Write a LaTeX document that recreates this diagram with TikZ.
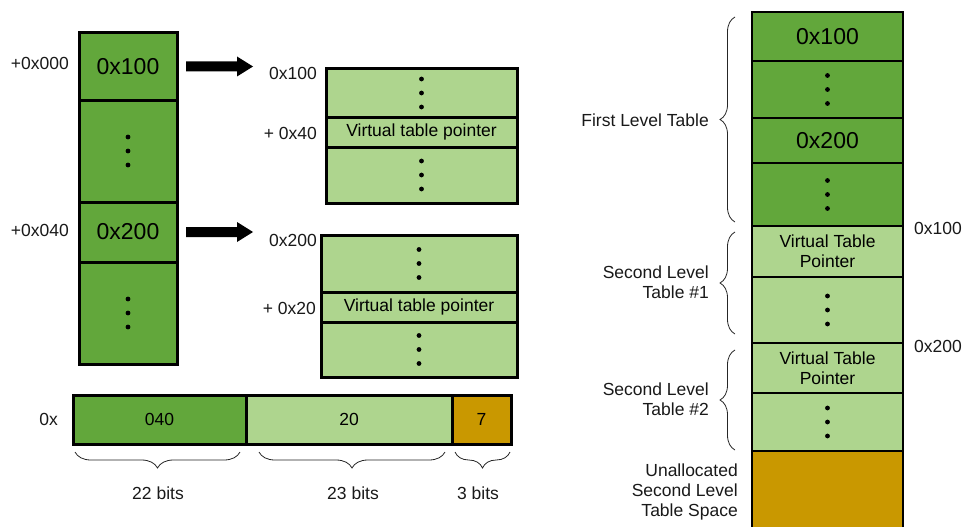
\documentclass[tikz,border=0pt]{standalone}
\usepackage{fontspec}
\setmainfont{Liberation Sans}
\usetikzlibrary{decorations.pathreplacing}

\definecolor{dkgreen}{RGB}{98,167,59}
\definecolor{ltgreen}{RGB}{174,213,142}
\definecolor{gold}{RGB}{201,152,0}

\newcommand\smallfont{\fontsize{17.5}{20}\selectfont}
\newcommand\bigfont{\fontsize{23}{27}\selectfont}
% three stacked dots in the middle of a cell
\newcommand\vdotsin[1]{\foreach \d in {-14,0,14}{\fill ([yshift=\d pt]#1.center) circle (2.4pt);}}
% block arrow from coordinate #1 to coordinate #2 (horizontal)
\newcommand\blockarrow[2]{\fill ([yshift=5pt]#1) -- ([xshift=-16pt,yshift=5pt]#2) -- ([xshift=-16pt,yshift=10pt]#2)
  -- (#2) -- ([xshift=-16pt,yshift=-10pt]#2) -- ([xshift=-16pt,yshift=-5pt]#2) -- ([yshift=-5pt]#1) -- cycle;}

\begin{document}
\begin{tikzpicture}[x=1pt,y=-1pt,
  cell/.style={draw=black, line width=3pt, anchor=north west, inner sep=0pt, outer sep=0pt, font=\smallfont, align=center},
  rcell/.style={cell, line width=2.6pt, minimum width=151pt},
  lbl/.style={font=\smallfont, inner sep=0pt, text=black!90},
  brc/.style={draw=black!85, line width=0.8pt, decorate}]
\useasboundingbox (0,0) rectangle (964,527);

% ---- first level table (left) ----
\node[cell, fill=dkgreen, minimum width=98pt, minimum height=67pt,  font=\bigfont] (c1) at (79,33) {0x100};
\node[cell, fill=dkgreen, minimum width=98pt, minimum height=102pt] (c2) at (79,100) {};
\node[cell, fill=dkgreen, minimum width=98pt, minimum height=60pt,  font=\bigfont] (c3) at (79,202) {0x200};
\node[cell, fill=dkgreen, minimum width=98pt, minimum height=102pt] (c4) at (79,262) {};
\vdotsin{c2}
\vdotsin{c4}
\node[lbl, anchor=east] (o1) at (69,63) {+0x000};
\node[lbl, anchor=east] (o2) at (69,230) {+0x040};

% ---- pointers to the second level tables ----
\coordinate (s1) at ([xshift=9pt]c1.east);
\coordinate (e1) at ([xshift=76pt]c1.east);
\coordinate (s2) at ([xshift=9pt]c3.east);
\coordinate (e2) at ([xshift=76pt]c3.east);
\blockarrow{s1}{e1}
\blockarrow{s2}{e2}

% ---- second level table #1 ----
\node[cell, fill=ltgreen, minimum width=191pt, minimum height=48pt] (a1) at (326,69) {};
\node[cell, fill=ltgreen, minimum width=191pt, minimum height=30pt] (a2) at (326,117) {Virtual table pointer};
\node[cell, fill=ltgreen, minimum width=191pt, minimum height=56pt] (a3) at (326,147) {};
\vdotsin{a1}
\vdotsin{a3}
\node[lbl, anchor=east] (la1) at (317,73) {0x100};
\node[lbl, anchor=east] (la2) at (317,133) {+ 0x40};

% ---- second level table #2 ----
\node[cell, fill=ltgreen, minimum width=196pt, minimum height=57pt] (b1) at (321,235) {};
\node[cell, fill=ltgreen, minimum width=196pt, minimum height=30pt] (b2) at (321,292) {Virtual table pointer};
\node[cell, fill=ltgreen, minimum width=196pt, minimum height=55pt] (b3) at (321,322) {};
\vdotsin{b1}
\vdotsin{b3}
\node[lbl, anchor=east] (lb1) at (317,240) {0x200};
\node[lbl, anchor=east] (lb2) at (316,308) {+ 0x20};

% ---- address split into bit fields ----
\node[cell, fill=dkgreen, minimum width=173pt, minimum height=49pt] (f1) at (73,395) {040};
\node[cell, fill=ltgreen, minimum width=206pt, minimum height=49pt] (f2) at (246,395) {20};
\node[cell, fill=gold,    minimum width=59pt,  minimum height=49pt] (f3) at (452,395) {7};
\node[lbl, anchor=east] (px) at (58,419) {0x};
\draw[brc, decoration={brace, mirror, amplitude=16pt}] (75,452) -- (240,452);
\draw[brc, decoration={brace, mirror, amplitude=16pt}] (259,452) -- (445,452);
\draw[brc, decoration={brace, mirror, amplitude=16pt}] (455,452) -- (510,452);
\node[lbl] (w1) at (158,493) {22 bits};
\node[lbl] (w2) at (353,493) {23 bits};
\node[lbl] (w3) at (478,493) {3 bits};

% ---- memory layout (right) ----
\node[rcell, fill=dkgreen, minimum height=49pt, font=\bigfont] (r1) at (752,12) {0x100};
\node[rcell, fill=dkgreen, minimum height=57pt] (r2) at (752,61) {};
\node[rcell, fill=dkgreen, minimum height=45pt, font=\bigfont] (r3) at (752,118) {0x200};
\node[rcell, fill=dkgreen, minimum height=63pt] (r4) at (752,163) {};
\node[rcell, fill=ltgreen, minimum height=51pt] (r5) at (752,226) {Virtual Table\\Pointer};
\node[rcell, fill=ltgreen, minimum height=66pt] (r6) at (752,277) {};
\node[rcell, fill=ltgreen, minimum height=50pt] (r7) at (752,343) {Virtual Table\\Pointer};
\node[rcell, fill=ltgreen, minimum height=58pt] (r8) at (752,393) {};
\node[rcell, fill=gold,    minimum height=90pt] (r9) at (752,451) {};
\vdotsin{r2}
\vdotsin{r4}
\vdotsin{r6}
\vdotsin{r8}
\node[lbl, anchor=west] (m1) at (914,228) {0x100};
\node[lbl, anchor=west] (m2) at (914,346) {0x200};

\draw[brc, decoration={brace, amplitude=15pt}] (735,222) -- (735,17);
\draw[brc, decoration={brace, amplitude=15pt}] (735,334) -- (735,232);
\draw[brc, decoration={brace, amplitude=15pt}] (735,450) -- (735,350);
\node[lbl, anchor=east] (t1) at (709,120) {First Level Table};
\node[lbl, anchor=east, align=right] (t2) at (709,282) {Second Level\\Table \#1};
\node[lbl, anchor=east, align=right] (t3) at (709,399) {Second Level\\Table \#2};
\node[lbl, anchor=east, align=right] (t4) at (738,492) {Unallocated\\Second Level\\Table Space};
\end{tikzpicture}
\end{document}
